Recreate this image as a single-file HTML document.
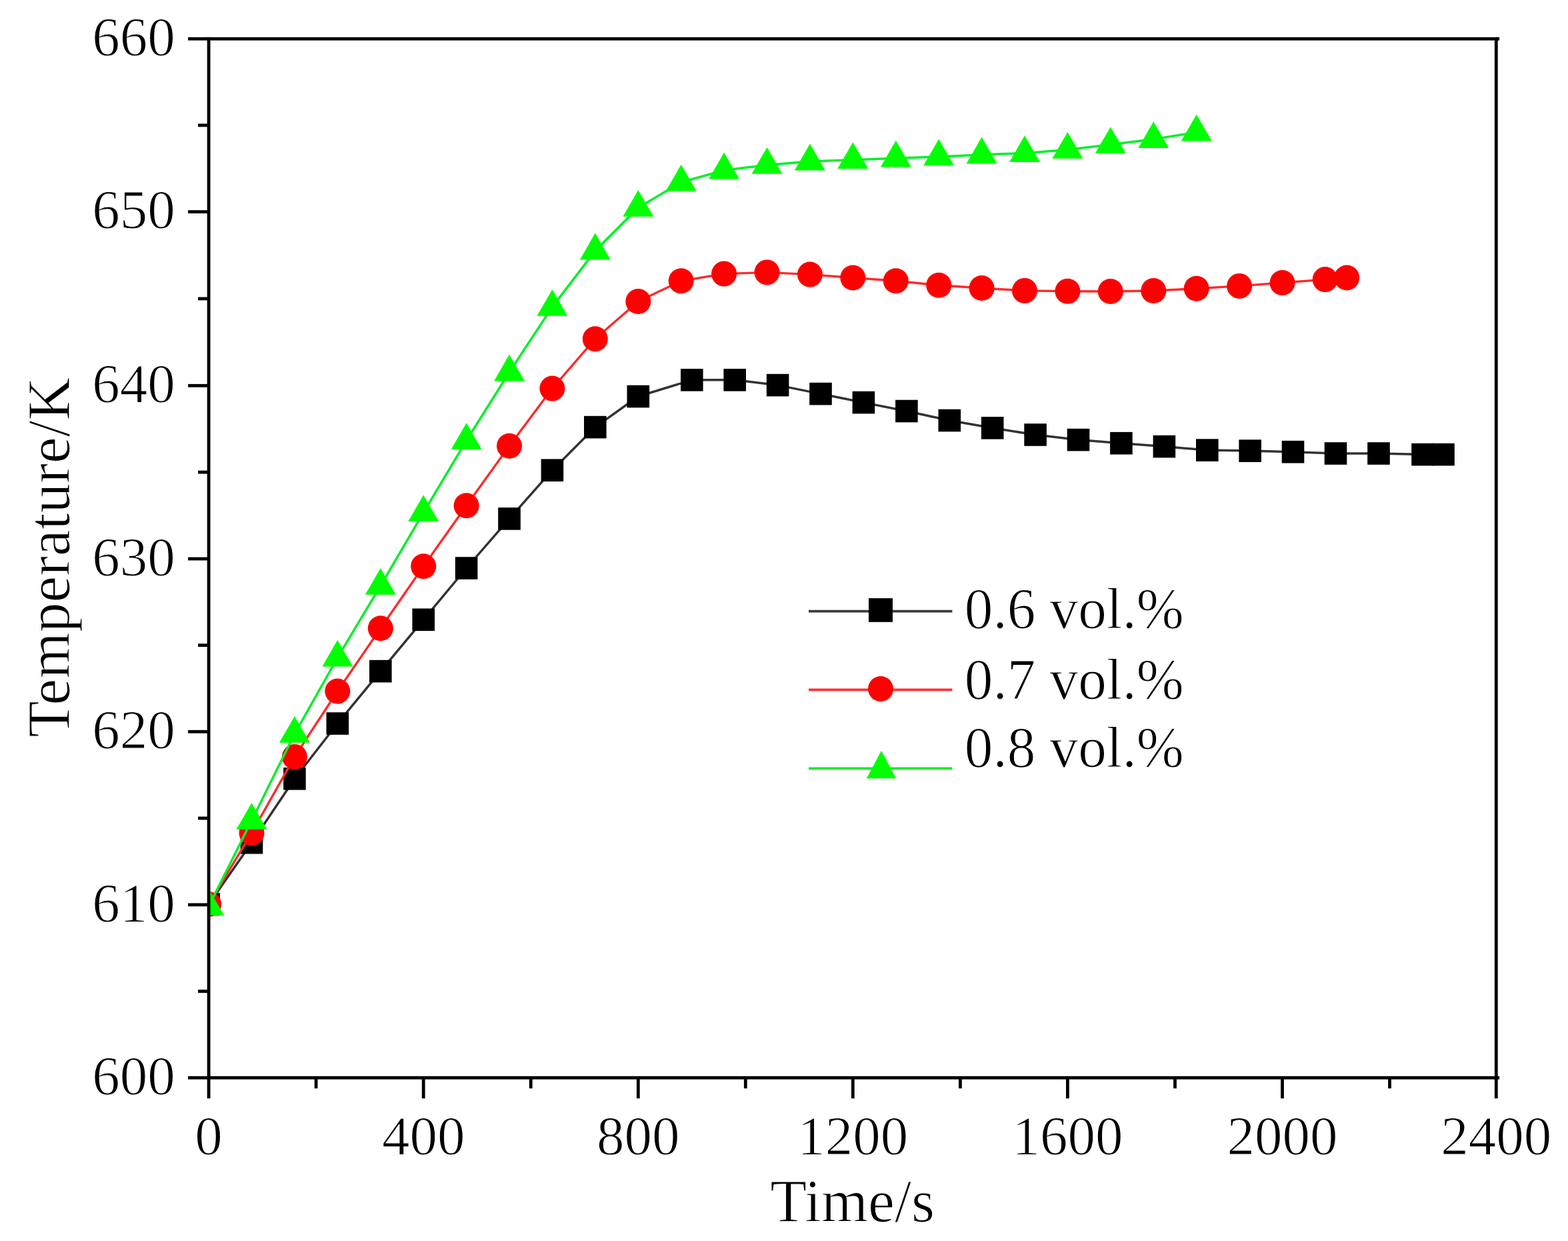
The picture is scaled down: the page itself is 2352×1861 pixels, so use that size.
<!DOCTYPE html>
<html><head><meta charset="utf-8"><title>Temperature vs Time</title>
<style>
html,body{margin:0;padding:0;background:#fff;}
body{width:2352px;height:1861px;overflow:hidden;}
svg{display:block;}
text{font-family:"Liberation Serif","Times New Roman",serif;fill:#000;stroke:#fff;stroke-width:1.2px;paint-order:normal;}
</style></head><body>
<svg width="2352" height="1861" viewBox="0 0 2352 1861">
<rect width="2352" height="1861" fill="#fff"/>
<defs><clipPath id="pa"><rect x="313.1" y="58.2" width="1931.2000000000003" height="1558.0"/></clipPath></defs>

<g clip-path="url(#pa)">
<polyline fill="none" stroke="#333" stroke-width="3.5" stroke-linejoin="round" points="313.1,1356.0 377.5,1263.7 441.9,1167.8 506.3,1085.0 570.8,1006.6 635.2,929.3 699.6,852.0 764.0,777.9 828.4,705.2 892.8,640.6 957.3,594.5 1037.8,569.8 1102.2,569.8 1166.6,577.6 1231.0,590.6 1295.4,603.6 1359.9,616.5 1424.3,630.5 1488.7,641.8 1553.1,652.0 1617.5,659.6 1681.9,664.7 1746.4,669.6 1810.8,675.1 1875.2,676.1 1939.5,677.7 2003.5,680.0 2068.0,680.0 2134.0,681.6 2165.0,681.6"/>
<g fill="#000"><rect x="296.3" y="1339.2" width="33.6" height="33.6"/><rect x="360.7" y="1246.9" width="33.6" height="33.6"/><rect x="425.1" y="1151.0" width="33.6" height="33.6"/><rect x="489.5" y="1068.2" width="33.6" height="33.6"/><rect x="554.0" y="989.8" width="33.6" height="33.6"/><rect x="618.4" y="912.5" width="33.6" height="33.6"/><rect x="682.8" y="835.2" width="33.6" height="33.6"/><rect x="747.2" y="761.1" width="33.6" height="33.6"/><rect x="811.6" y="688.4" width="33.6" height="33.6"/><rect x="876.0" y="623.8" width="33.6" height="33.6"/><rect x="940.5" y="577.7" width="33.6" height="33.6"/><rect x="1021.0" y="553.0" width="33.6" height="33.6"/><rect x="1085.4" y="553.0" width="33.6" height="33.6"/><rect x="1149.8" y="560.8" width="33.6" height="33.6"/><rect x="1214.2" y="573.8" width="33.6" height="33.6"/><rect x="1278.6" y="586.8" width="33.6" height="33.6"/><rect x="1343.1" y="599.7" width="33.6" height="33.6"/><rect x="1407.5" y="613.7" width="33.6" height="33.6"/><rect x="1471.9" y="625.0" width="33.6" height="33.6"/><rect x="1536.3" y="635.2" width="33.6" height="33.6"/><rect x="1600.7" y="642.8" width="33.6" height="33.6"/><rect x="1665.1" y="647.9" width="33.6" height="33.6"/><rect x="1729.6" y="652.8" width="33.6" height="33.6"/><rect x="1794.0" y="658.3" width="33.6" height="33.6"/><rect x="1858.4" y="659.3" width="33.6" height="33.6"/><rect x="1922.7" y="660.9" width="33.6" height="33.6"/><rect x="1986.7" y="663.2" width="33.6" height="33.6"/><rect x="2051.2" y="663.2" width="33.6" height="33.6"/><rect x="2117.2" y="664.8" width="33.6" height="33.6"/><rect x="2148.2" y="664.8" width="33.6" height="33.6"/></g>
<polyline fill="none" stroke="#ff2a2a" stroke-width="3.4" stroke-linejoin="round" points="313.1,1356.0 377.5,1249.1 441.9,1134.9 506.3,1036.5 570.8,942.3 635.2,849.2 699.6,758.3 764.0,668.7 828.4,582.6 892.8,508.2 957.3,452.0 1021.7,421.3 1086.1,410.6 1150.5,408.4 1214.9,411.6 1279.3,416.5 1343.8,421.3 1408.2,427.8 1472.6,432.0 1537.0,435.9 1601.4,436.8 1665.8,437.0 1730.3,436.0 1794.7,432.8 1859.1,428.9 1923.5,424.0 1987.7,419.1 2020.2,416.5"/>
<g fill="#ff0000"><circle cx="313.1" cy="1356.0" r="19.0"/><circle cx="377.5" cy="1249.1" r="19.0"/><circle cx="441.9" cy="1134.9" r="19.0"/><circle cx="506.3" cy="1036.5" r="19.0"/><circle cx="570.8" cy="942.3" r="19.0"/><circle cx="635.2" cy="849.2" r="19.0"/><circle cx="699.6" cy="758.3" r="19.0"/><circle cx="764.0" cy="668.7" r="19.0"/><circle cx="828.4" cy="582.6" r="19.0"/><circle cx="892.8" cy="508.2" r="19.0"/><circle cx="957.3" cy="452.0" r="19.0"/><circle cx="1021.7" cy="421.3" r="19.0"/><circle cx="1086.1" cy="410.6" r="19.0"/><circle cx="1150.5" cy="408.4" r="19.0"/><circle cx="1214.9" cy="411.6" r="19.0"/><circle cx="1279.3" cy="416.5" r="19.0"/><circle cx="1343.8" cy="421.3" r="19.0"/><circle cx="1408.2" cy="427.8" r="19.0"/><circle cx="1472.6" cy="432.0" r="19.0"/><circle cx="1537.0" cy="435.9" r="19.0"/><circle cx="1601.4" cy="436.8" r="19.0"/><circle cx="1665.8" cy="437.0" r="19.0"/><circle cx="1730.3" cy="436.0" r="19.0"/><circle cx="1794.7" cy="432.8" r="19.0"/><circle cx="1859.1" cy="428.9" r="19.0"/><circle cx="1923.5" cy="424.0" r="19.0"/><circle cx="1987.7" cy="419.1" r="19.0"/><circle cx="2020.2" cy="416.5" r="19.0"/></g>
<polyline fill="none" stroke="#00f028" stroke-width="3.5" stroke-linejoin="round" points="313.1,1359.2 377.5,1230.5 441.9,1100.5 506.3,986.3 570.8,878.4 635.2,768.7 699.6,660.7 764.0,558.1 828.4,460.4 892.8,376.1 957.3,311.5 1021.7,273.3 1086.1,255.3 1150.5,247.4 1214.9,242.1 1279.3,239.8 1343.8,237.2 1408.2,234.9 1472.6,232.1 1537.0,229.7 1601.4,224.5 1665.8,216.8 1730.3,208.7 1794.7,198.3"/>
<g fill="#00ff00"><polygon points="313.1,1332.7 290.1,1372.5 336.1,1372.5"/><polygon points="377.5,1204.0 354.5,1243.8 400.5,1243.8"/><polygon points="441.9,1074.0 418.9,1113.8 464.9,1113.8"/><polygon points="506.3,959.8 483.3,999.6 529.3,999.6"/><polygon points="570.8,851.9 547.8,891.7 593.8,891.7"/><polygon points="635.2,742.2 612.2,782.0 658.2,782.0"/><polygon points="699.6,634.2 676.6,674.0 722.6,674.0"/><polygon points="764.0,531.6 741.0,571.4 787.0,571.4"/><polygon points="828.4,433.9 805.4,473.7 851.4,473.7"/><polygon points="892.8,349.6 869.8,389.4 915.8,389.4"/><polygon points="957.3,285.0 934.3,324.8 980.3,324.8"/><polygon points="1021.7,246.8 998.7,286.6 1044.7,286.6"/><polygon points="1086.1,228.8 1063.1,268.6 1109.1,268.6"/><polygon points="1150.5,220.9 1127.5,260.7 1173.5,260.7"/><polygon points="1214.9,215.6 1191.9,255.4 1237.9,255.4"/><polygon points="1279.3,213.3 1256.3,253.1 1302.3,253.1"/><polygon points="1343.8,210.7 1320.8,250.5 1366.8,250.5"/><polygon points="1408.2,208.4 1385.2,248.2 1431.2,248.2"/><polygon points="1472.6,205.6 1449.6,245.4 1495.6,245.4"/><polygon points="1537.0,203.2 1514.0,243.0 1560.0,243.0"/><polygon points="1601.4,198.0 1578.4,237.8 1624.4,237.8"/><polygon points="1665.8,190.3 1642.8,230.1 1688.8,230.1"/><polygon points="1730.3,182.2 1707.3,222.0 1753.3,222.0"/><polygon points="1794.7,171.8 1771.7,211.6 1817.7,211.6"/></g>
</g>
<g stroke="#000" stroke-width="4.8" fill="none" stroke-linecap="square">
<rect x="313.1" y="58.2" width="1931.2" height="1558.0" stroke-linecap="butt"/>
<line x1="2244.3" y1="58.2" x2="2249.1000000000004" y2="58.2" stroke-linecap="butt"/>
<line x1="2244.3" y1="1616.2" x2="2249.1000000000004" y2="1616.2" stroke-linecap="butt"/>
<line x1="282.1" y1="1616.2" x2="313.1" y2="1616.2" stroke-linecap="butt"/>
<line x1="297.1" y1="1486.5" x2="313.1" y2="1486.5" stroke-linecap="butt"/>
<line x1="282.1" y1="1356.8" x2="313.1" y2="1356.8" stroke-linecap="butt"/>
<line x1="297.1" y1="1227.0" x2="313.1" y2="1227.0" stroke-linecap="butt"/>
<line x1="282.1" y1="1097.2" x2="313.1" y2="1097.2" stroke-linecap="butt"/>
<line x1="297.1" y1="967.6" x2="313.1" y2="967.6" stroke-linecap="butt"/>
<line x1="282.1" y1="838.0" x2="313.1" y2="838.0" stroke-linecap="butt"/>
<line x1="297.1" y1="708.1" x2="313.1" y2="708.1" stroke-linecap="butt"/>
<line x1="282.1" y1="578.3" x2="313.1" y2="578.3" stroke-linecap="butt"/>
<line x1="297.1" y1="447.9" x2="313.1" y2="447.9" stroke-linecap="butt"/>
<line x1="282.1" y1="317.6" x2="313.1" y2="317.6" stroke-linecap="butt"/>
<line x1="297.1" y1="187.9" x2="313.1" y2="187.9" stroke-linecap="butt"/>
<line x1="282.1" y1="58.2" x2="313.1" y2="58.2" stroke-linecap="butt"/>
<line x1="313.1" y1="1616.2" x2="313.1" y2="1647.2" stroke-linecap="butt"/>
<line x1="474.1" y1="1616.2" x2="474.1" y2="1632.2" stroke-linecap="butt"/>
<line x1="635.2" y1="1616.2" x2="635.2" y2="1647.2" stroke-linecap="butt"/>
<line x1="796.2" y1="1616.2" x2="796.2" y2="1632.2" stroke-linecap="butt"/>
<line x1="957.3" y1="1616.2" x2="957.3" y2="1647.2" stroke-linecap="butt"/>
<line x1="1118.3" y1="1616.2" x2="1118.3" y2="1632.2" stroke-linecap="butt"/>
<line x1="1279.3" y1="1616.2" x2="1279.3" y2="1647.2" stroke-linecap="butt"/>
<line x1="1440.4" y1="1616.2" x2="1440.4" y2="1632.2" stroke-linecap="butt"/>
<line x1="1601.4" y1="1616.2" x2="1601.4" y2="1647.2" stroke-linecap="butt"/>
<line x1="1762.5" y1="1616.2" x2="1762.5" y2="1632.2" stroke-linecap="butt"/>
<line x1="1923.5" y1="1616.2" x2="1923.5" y2="1647.2" stroke-linecap="butt"/>
<line x1="2084.5" y1="1616.2" x2="2084.5" y2="1632.2" stroke-linecap="butt"/>
<line x1="2244.3" y1="1616.2" x2="2244.3" y2="1647.2" stroke-linecap="butt"/>
</g>
<text x="262.8" y="1640.9" font-size="83" text-anchor="end">600</text>
<text x="262.8" y="1381.5" font-size="83" text-anchor="end">610</text>
<text x="262.8" y="1121.9" font-size="83" text-anchor="end">620</text>
<text x="262.8" y="862.7" font-size="83" text-anchor="end">630</text>
<text x="262.8" y="603.0" font-size="83" text-anchor="end">640</text>
<text x="262.8" y="342.3" font-size="83" text-anchor="end">650</text>
<text x="262.8" y="82.9" font-size="83" text-anchor="end">660</text>
<text x="313.1" y="1731" font-size="83" text-anchor="middle">0</text>
<text x="635.2" y="1731" font-size="83" text-anchor="middle">400</text>
<text x="957.3" y="1731" font-size="83" text-anchor="middle">800</text>
<text x="1279.3" y="1731" font-size="83" text-anchor="middle">1200</text>
<text x="1601.4" y="1731" font-size="83" text-anchor="middle">1600</text>
<text x="1923.5" y="1731" font-size="83" text-anchor="middle">2000</text>
<text x="2244.3" y="1731" font-size="83" text-anchor="middle">2400</text>
<text x="1278.7" y="1832" font-size="90" text-anchor="middle">Time/s</text>
<text transform="translate(104 835.8) rotate(-90)" x="0" y="0" font-size="91.5" text-anchor="middle" textLength="540" lengthAdjust="spacingAndGlyphs">Temperature/K</text>
<line x1="1213" y1="916.6" x2="1428.4" y2="916.6" stroke="#3a3a3a" stroke-width="3.8"/>
<rect x="1303" y="897.1" width="36" height="35.7" fill="#000"/>
<text x="1446.8" y="941.5" font-size="87.5" textLength="329" lengthAdjust="spacingAndGlyphs">0.6 vol.%</text>
<line x1="1213" y1="1034.4" x2="1428.4" y2="1034.4" stroke="#ff3030" stroke-width="3.8"/>
<circle cx="1321" cy="1033.0" r="19" fill="#ff0000"/>
<text x="1446.8" y="1047.6" font-size="87.5" textLength="329" lengthAdjust="spacingAndGlyphs">0.7 vol.%</text>
<line x1="1213" y1="1152.4" x2="1428.4" y2="1152.4" stroke="#00f028" stroke-width="3.8"/>
<polygon points="1322,1125.7 1299.8,1167.3 1344.2,1167.3" fill="#00ff00"/>
<text x="1446.8" y="1149.8" font-size="87.5" textLength="329" lengthAdjust="spacingAndGlyphs">0.8 vol.%</text>
</svg>
</body></html>
